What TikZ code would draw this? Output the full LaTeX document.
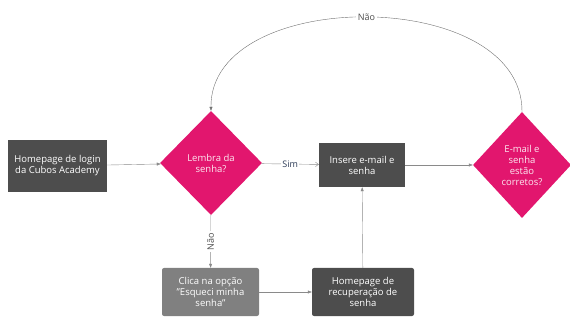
\documentclass[tikz,border=0pt]{standalone}
\usepackage{fontspec}
\setmainfont{Open Sans}
\usetikzlibrary{arrows.meta, positioning, shapes.geometric}

\definecolor{boxdark}{HTML}{4D4D4D}
\definecolor{boxmid}{HTML}{808080}
\definecolor{decisao}{HTML}{E2166E}
\definecolor{linha}{HTML}{8A8A8A}
\definecolor{simtxt}{HTML}{2B3A55}

\begin{document}
\begin{tikzpicture}[x=1pt, y=-1pt,
                etapa/.style={fill=boxdark, text=white, minimum width=99pt, minimum height=52pt, align=center, font=\fontsize{9.5}{11}\selectfont, inner sep=2pt},
                decisao/.style={diamond, fill=decisao, text=white!90!decisao, minimum width=102pt, minimum height=104pt, inner sep=0pt, align=center, font=\fontsize{9.5}{11}\selectfont},
                fluxo/.style={draw=linha, thin, -{Triangle[length=4pt, width=3pt]}, text=boxdark},
                rotulo/.style={font=\fontsize{9}{10}\selectfont, fill=white, inner sep=1.5pt}]

                \useasboundingbox (0,0) rectangle (570,320);

                % Start (left)
                \node[etapa] (login) at (57.5,166) {Homepage de login\\da Cubos Academy};

                % Decisions
                \node[decisao] (lembra) at (211,163) {Lembra da\\senha?};
                \node[decisao, minimum width=98pt, minimum height=106pt] (corretos) at (522,165) {E-mail e\\senha\\estão\\corretos?};

                % Middle row
                \node[etapa, minimum width=86pt, minimum height=44pt] (insere) at (362,165) {Insere e-mail e\\senha};

                % Recovery (bottom row)
                \node[etapa, fill=boxmid, rounded corners=2pt, minimum width=97pt, minimum height=48pt] (clica) at (210.5,292) {Clica na opção\\"Esqueci minha\\senha"};
                \node[etapa, rounded corners=2pt, minimum width=102pt, minimum height=48pt] (recupera) at (363,292) {Homepage de\\recuperação de\\senha};

                % Connectors
                \draw[fluxo] (login) -- (lembra);
                \draw[fluxo, -{Straight Barb[length=3pt, width=4.5pt]}] (lembra) -- (insere)
                    node[rotulo, midway, text=simtxt] {Sim};
                \draw[fluxo] (insere) -- (corretos);
                \draw[fluxo] (lembra) -- (clica)
                    node[rotulo, midway, rotate=90] {Não};
                \draw[fluxo] (clica) -- (recupera);
                \draw[fluxo] (recupera) -- (insere);

                % Back to start of decision
                \draw[fluxo, draw=boxdark!80] (corretos.north) .. controls (523,-14) and (210,-14) .. (lembra.north)
                    node[rotulo, pos=0.5] {Não};
            \end{tikzpicture}
\end{document}
